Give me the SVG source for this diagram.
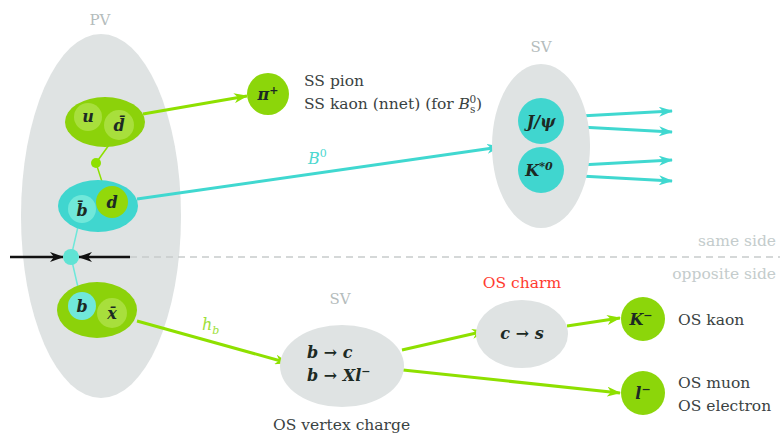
<svg xmlns="http://www.w3.org/2000/svg" width="780" height="434" viewBox="0 0 780 434">
<defs>
<marker id="ag" viewBox="0 0 14 10" refX="13" refY="5" markerWidth="14" markerHeight="10" markerUnits="userSpaceOnUse" orient="auto"><path d="M0,0 L14,5 L0,10 L4,5 Z" fill="#8ee000"/></marker>
<marker id="ac" viewBox="0 0 14 10" refX="13" refY="5" markerWidth="14" markerHeight="10" markerUnits="userSpaceOnUse" orient="auto"><path d="M0,0 L14,5 L0,10 L4,5 Z" fill="#40d8d0"/></marker>
<marker id="ak" viewBox="0 0 14 10" refX="13" refY="5" markerWidth="14" markerHeight="10" markerUnits="userSpaceOnUse" orient="auto"><path d="M0,0 L14,5 L0,10 L4,5 Z" fill="#111"/></marker>
</defs>
<style>
.vtx{fill:#dfe3e3}
.glab{font-family:"DejaVu Serif",serif;font-size:15px;fill:#b4bcbc}
.side{font-family:"DejaVu Serif",serif;font-size:15.5px;fill:#c4cccc}
.lab{font-family:"DejaVu Serif",serif;font-size:15.5px;fill:#3a4242}
.m{font-family:"DejaVu Serif",serif;font-size:16px;font-style:italic;font-weight:bold;fill:#1c2a24;text-anchor:middle}
.ms{text-anchor:start}
.gO{fill:#8cd20a}
.gI{fill:#a8df3c}
.cO{fill:#40d6cf}
.cI{fill:#70e8da}
.gl{stroke:#8ee000;stroke-width:3;fill:none}
.cl{stroke:#40d8d0;stroke-width:3;fill:none}
.sup{font-size:11px}
</style>

<g id="pv">
<ellipse class="vtx" cx="101" cy="216" rx="80" ry="182"/>
<text class="glab" x="100" y="25" text-anchor="middle">PV</text>
</g>

<g id="connectors">
<line x1="130" y1="257" x2="780" y2="257" stroke="#c8cccc" stroke-width="1.5" stroke-dasharray="7,5"/>
<line x1="10" y1="257" x2="63" y2="257" stroke="#111" stroke-width="2.5" marker-end="url(#ak)"/>
<line x1="130" y1="257" x2="79" y2="257" stroke="#111" stroke-width="2.5" marker-end="url(#ak)"/>
<polyline points="114,138 96,163 104,188" stroke="#8ee000" stroke-width="1.5" fill="none"/>
<polyline points="80,218 71,257 80,296" stroke="#6ee8da" stroke-width="1.5" fill="none"/>
<line class="gl" x1="143" y1="114" x2="247" y2="96" marker-end="url(#ag)"/>
<line class="cl" x1="137" y1="199" x2="500" y2="147" marker-end="url(#ac)"/>
<line class="gl" x1="137" y1="321" x2="288" y2="363" marker-end="url(#ag)"/>
<line class="gl" x1="402" y1="350" x2="485" y2="331" marker-end="url(#ag)"/>
<line class="gl" x1="567" y1="326" x2="620" y2="318" marker-end="url(#ag)"/>
<line class="gl" x1="403" y1="370" x2="620" y2="393" marker-end="url(#ag)"/>
<line class="cl" x1="562" y1="117" x2="672" y2="111" marker-end="url(#ac)"/>
<line class="cl" x1="562" y1="126" x2="672" y2="132" marker-end="url(#ac)"/>
<line class="cl" x1="562" y1="166" x2="672" y2="160" marker-end="url(#ac)"/>
<line class="cl" x1="562" y1="175" x2="672" y2="181" marker-end="url(#ac)"/>
<text x="202" y="330" font-family="DejaVu Serif,serif" font-style="italic" font-size="16" fill="#9ee03a">h<tspan font-size="11" dy="4">b</tspan></text>
<text x="308" y="164" font-family="DejaVu Serif,serif" font-style="italic" font-size="16" fill="#4ed8d0">B<tspan font-size="11" dy="-7" font-style="normal">0</tspan></text>
</g>

<g id="ud">
<ellipse class="gO" cx="105" cy="122" rx="40" ry="25"/>
<circle class="gI" cx="88" cy="117" r="14"/>
<circle class="gI" cx="119" cy="125" r="15"/>
<text class="m" x="88" y="122">u</text>
<text class="m" x="119" y="131">d̄</text>
</g>

<g id="dot"><circle cx="96" cy="163" r="5" fill="#8ee000"/></g>

<g id="bd">
<ellipse class="cO" cx="98" cy="206" rx="40" ry="26"/>
<circle class="cI" cx="82" cy="209" r="14"/>
<circle cx="112" cy="202" r="16" fill="#93d80a"/>
<text class="m" x="82" y="216">b̄</text>
<text class="m" x="112" y="208">d</text>
</g>

<g id="pvdot"><circle cx="71" cy="257" r="8" fill="#60e3d4"/></g>

<g id="bx">
<ellipse class="gO" cx="97" cy="310" rx="40" ry="28"/>
<circle class="cI" cx="82" cy="306" r="14"/>
<circle class="gI" cx="112" cy="313" r="15"/>
<text class="m" x="82" y="312">b</text>
<text class="m" x="112" y="319">x̄</text>
</g>

<g id="pion">
<circle cx="268" cy="94" r="21" fill="#8cd60a"/>
<text class="m" x="268" y="100">π<tspan class="sup" dy="-6">+</tspan></text>
<text class="lab" x="304" y="86">SS pion</text>
<text class="lab" x="304" y="109">SS kaon (nnet) (for <tspan font-style="italic">B</tspan><tspan font-size="10.5" dy="4">s</tspan><tspan font-size="10.5" dx="-6" dy="-10">0</tspan><tspan dy="6">)</tspan></text>
</g>

<g id="sv1">
<ellipse class="vtx" cx="541" cy="146" rx="49" ry="82"/>
<text class="glab" x="541" y="52" text-anchor="middle">SV</text>
<circle class="cO" cx="541" cy="121" r="23"/>
<circle class="cO" cx="541" cy="170" r="23"/>
<text class="m" x="541" y="127">J/ψ</text>
<text class="m" x="539" y="176">K<tspan class="sup" dy="-6">*0</tspan></text>
</g>

<g id="sides">
<text class="side" x="776" y="246" text-anchor="end">same side</text>
<text class="side" x="776" y="279" text-anchor="end">opposite side</text>
</g>

<g id="sv2">
<ellipse class="vtx" cx="342" cy="366" rx="62" ry="41"/>
<text class="glab" x="340" y="304" text-anchor="middle">SV</text>
<text class="m ms" x="307" y="358">b → c</text>
<text class="m ms" x="307" y="381">b → Xl<tspan class="sup" dy="-6">−</tspan></text>
<text class="lab" x="273" y="430">OS vertex charge</text>
</g>

<g id="charm">
<ellipse class="vtx" cx="522" cy="334" rx="46" ry="34"/>
<text x="522" y="288" text-anchor="middle" font-family="DejaVu Serif,serif" font-size="15.5" fill="#ff3b30">OS charm</text>
<text class="m" x="522" y="339">c → s</text>
</g>

<g id="kaon">
<circle cx="643" cy="319" r="22" fill="#8cd60a"/>
<text class="m" x="641" y="325">K<tspan class="sup" dy="-6">−</tspan></text>
<text class="lab" x="678" y="325">OS kaon</text>
</g>

<g id="lepton">
<circle cx="643" cy="393" r="22" fill="#8cd60a"/>
<text class="m" x="643" y="399">l<tspan class="sup" dy="-6">−</tspan></text>
<text class="lab" x="678" y="388">OS muon</text>
<text class="lab" x="678" y="411">OS electron</text>
</g>
</svg>
